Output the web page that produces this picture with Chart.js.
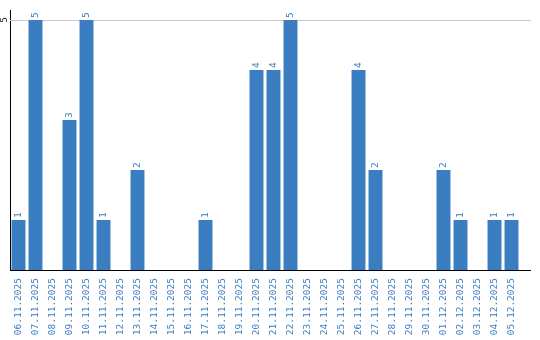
<!DOCTYPE html>
<html>
<head>
<meta charset="utf-8">
<script src="https://cdn.jsdelivr.net/npm/chart.js@4/dist/chart.umd.min.js"></script>
<style>
    html, body { margin: 0; padding: 0; background: #fff; }
    #wrap { width: 540px; height: 340px; position: relative; }
</style>
</head>
<body>
<div id="wrap"><canvas id="dayChart"></canvas></div>
<script>
var dayLabels = [
    '06.11.2025', '07.11.2025', '08.11.2025', '09.11.2025', '10.11.2025',
    '11.11.2025', '12.11.2025', '13.11.2025', '14.11.2025', '15.11.2025',
    '16.11.2025', '17.11.2025', '18.11.2025', '19.11.2025', '20.11.2025',
    '21.11.2025', '22.11.2025', '23.11.2025', '24.11.2025', '25.11.2025',
    '26.11.2025', '27.11.2025', '28.11.2025', '29.11.2025', '30.11.2025',
    '01.12.2025', '02.12.2025', '03.12.2025', '04.12.2025', '05.12.2025'
];
var dayCounts = [
    1, 5, 0, 3, 5, 1, 0, 2, 0, 0,
    0, 1, 0, 0, 4, 4, 5, 0, 0, 0,
    4, 2, 0, 0, 0, 2, 1, 0, 1, 1
];
var yTickValues = [5];

(function () {
    var blue = '#3a7dc1';
    var monoFont = '9.5px "DejaVu Sans Mono", monospace';

    // axis line + the one grid line run a bit past the last bar
    var extraLines = {
        id: 'extraLines',
        beforeDatasetsDraw: function (chart) {
            var ctx = chart.ctx;
            var area = chart.chartArea;
            var y = chart.scales.y;
            ctx.save();
            ctx.lineWidth = 1;
            ctx.strokeStyle = '#c8c8c8';
            yTickValues.forEach(function (v) {
                var py = Math.round(y.getPixelForValue(v)) + 0.5;
                ctx.beginPath();
                ctx.moveTo(area.left, py);
                ctx.lineTo(area.right + 11, py);
                ctx.stroke();
            });
            ctx.restore();
        },
        afterDatasetsDraw: function (chart) {
            var ctx = chart.ctx;
            var area = chart.chartArea;
            var y = chart.scales.y;
            ctx.save();
            ctx.strokeStyle = '#000';
            ctx.lineWidth = 1;
            var py0 = Math.round(y.getPixelForValue(0)) + 0.5;
            ctx.beginPath();
            ctx.moveTo(area.left, py0);
            ctx.lineTo(area.right + 11, py0);
            ctx.stroke();

            // y tick text, rotated
            ctx.fillStyle = '#222';
            ctx.font = monoFont;
            yTickValues.forEach(function (v) {
                ctx.save();
                ctx.translate(5, y.getPixelForValue(v));
                ctx.rotate(-Math.PI / 2);
                ctx.textAlign = 'center';
                ctx.textBaseline = 'middle';
                ctx.fillText(String(v), 0, 0);
                ctx.restore();
            });

            // value labels above bars
            var meta = chart.getDatasetMeta(0);
            ctx.fillStyle = blue;
            meta.data.forEach(function (bar, i) {
                var v = dayCounts[i];
                if (!v) return;
                ctx.save();
                ctx.translate(bar.x, bar.y - 2);
                ctx.rotate(-Math.PI / 2);
                ctx.textAlign = 'left';
                ctx.textBaseline = 'middle';
                ctx.fillText(String(v), 0, 0);
                ctx.restore();
            });
            ctx.restore();
        }
    };

    new Chart(document.getElementById('dayChart'), {
        type: 'bar',
        data: {
            labels: dayLabels,
            datasets: [{
                data: dayCounts,
                backgroundColor: blue,
                borderWidth: 0,
                barPercentage: 0.82,
                categoryPercentage: 1
            }]
        },
        options: {
            responsive: true,
            maintainAspectRatio: false,
            animation: false,
            events: [],
            layout: { padding: { left: 10, right: 20, top: 10, bottom: 0 } },
            plugins: { legend: { display: false }, tooltip: { enabled: false } },
            scales: {
                x: {
                    grid: { display: false, drawTicks: false },
                    border: { display: false },
                    afterFit: function (scale) { scale.height = 70; },
                    ticks: {
                        color: blue,
                        font: { family: '"DejaVu Sans Mono", monospace', size: 9.5 },
                        minRotation: 90,
                        maxRotation: 90,
                        padding: 8,
                        autoSkip: false
                    }
                },
                y: {
                    min: 0,
                    max: 5.2,
                    afterBuildTicks: function (scale) {
                        scale.ticks = yTickValues.map(function (v) { return { value: v }; });
                    },
                    grid: { display: false, drawTicks: false },
                    border: { display: true, color: '#000', width: 1 },
                    ticks: { display: false }
                }
            }
        },
        plugins: [extraLines]
    });
})();
</script>
</body>
</html>
